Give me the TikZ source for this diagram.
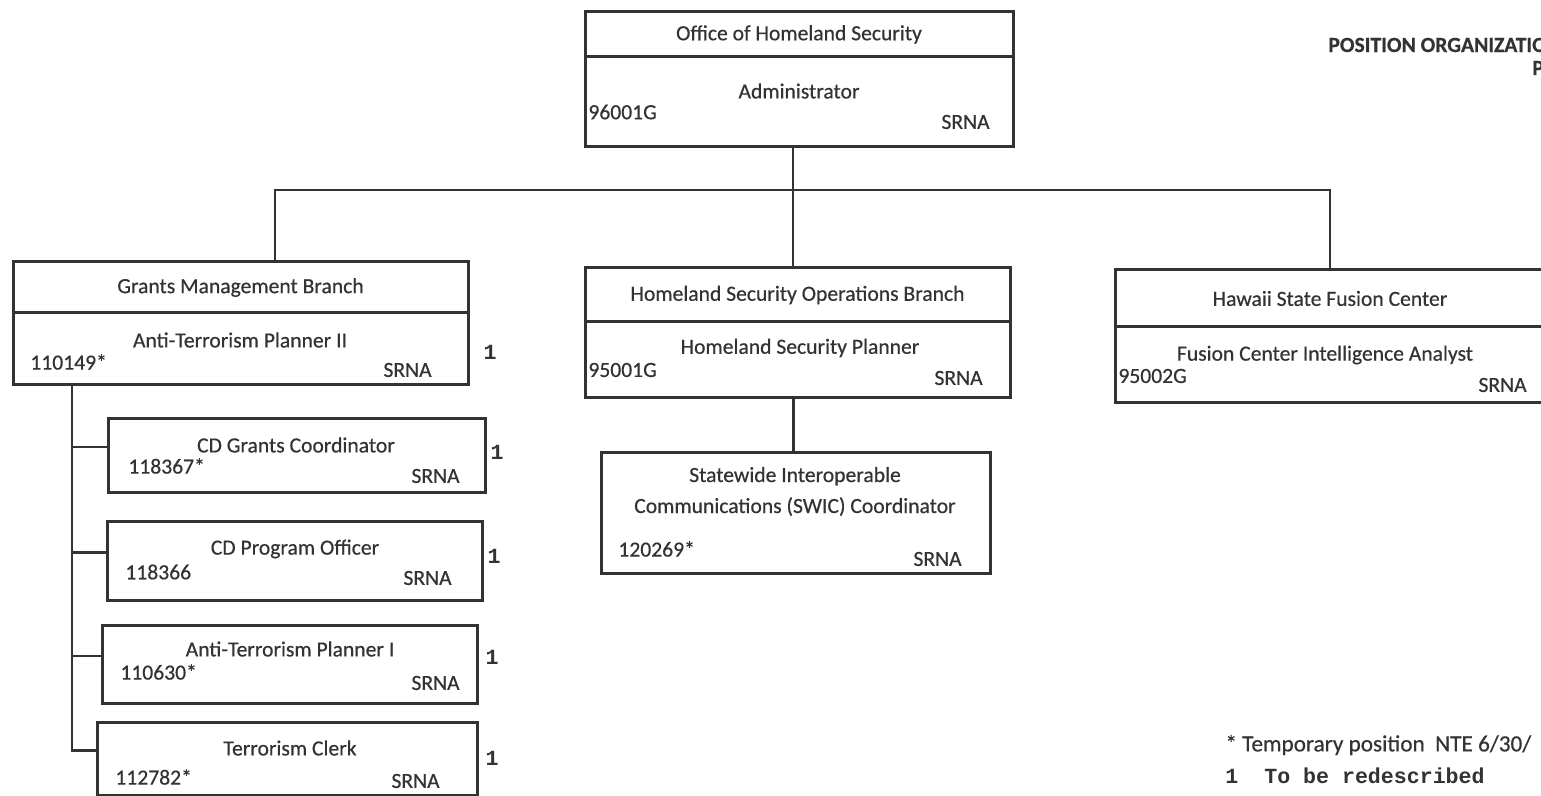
\documentclass[tikz,border=0pt]{standalone}
\usepackage{fontspec}
\setmainfont{Carlito}[FakeBold=0.5]
\setmonofont{Liberation Mono}
\usepackage{xcolor}
\usetikzlibrary{positioning}
\definecolor{ink}{HTML}{333333}
\newcommand{\chartfont}{\fontsize{10.8}{15.5}\selectfont}
\newcommand{\notefont}{\fontsize{10.8}{13}\selectfont\ttfamily\bfseries}

\begin{document}
\begin{tikzpicture}[
    x=0.5pt, y=-0.5pt,
    head/.style={rectangle, draw=ink, line width=1.5pt, outer sep=0pt, inner sep=0pt, align=center, font=\chartfont, text=ink},
    post/.style={rectangle, draw=ink, line width=1.5pt, outer sep=0pt, inner sep=0pt},
    txt/.style={inner sep=0pt, align=center, font=\chartfont, text=ink},
    count/.style={inner sep=0pt, font=\notefont, text=ink},
    link/.style={draw=ink, line width=1.1pt}
]
\fill[white] (0,0) rectangle (1541,796);
\useasboundingbox (0,0) rectangle (1541,796);
\clip (0,0) rectangle (1541,796);

% Office of Homeland Security
\node[head, minimum width=214pt, minimum height=22.5pt] (office) at (799,34.5) {Office of Homeland Security};
\node[post, minimum width=214pt, minimum height=45pt, below=0pt of office] (officePost) {};
\node[txt] (officeTitle) at (799,91) {Administrator};
\node[txt, anchor=west] (officeNo) at (588,112) {96001G};
\node[txt, anchor=east] (officeSr) at (990,122) {SRNA};

% Grants Management Branch
\node[head, minimum width=227.5pt, minimum height=25.5pt] (grants) at (240.5,287.5) {Grants Management Branch};
\node[post, minimum width=227.5pt, minimum height=36pt, below=0pt of grants] (grantsPost) {};
\node[txt] (grantsTitle) at (240,340) {Anti-Terrorism Planner II};
\node[txt, anchor=west] (grantsNo) at (30,362) {110149*};
\node[txt, anchor=east] (grantsSr) at (432,370) {SRNA};
\node[count] (grantsOne) at (490,352) {1};

% Homeland Security Operations Branch
\node[head, minimum width=212.5pt, minimum height=27pt] (ops) at (797.5,295) {Homeland Security Operations Branch};
\node[post, minimum width=212.5pt, minimum height=38pt, below=0pt of ops] (opsPost) {};
\node[txt] (opsTitle) at (800,348) {Homeland Security Planner};
\node[txt, anchor=west] (opsNo) at (588,370) {95001G};
\node[txt, anchor=east] (opsSr) at (983,378) {SRNA};

% Hawaii State Fusion Center
\node[head, minimum width=215pt, minimum height=28.5pt] (fusion) at (1330,298.5) {Hawaii State Fusion Center};
\node[post, minimum width=215pt, minimum height=38pt, below=0pt of fusion] (fusionPost) {};
\node[txt] (fusionTitle) at (1325,355) {Fusion Center Intelligence Analyst};
\node[txt, anchor=west] (fusionNo) at (1118,376) {95002G};
\node[txt, anchor=east] (fusionSr) at (1527,385) {SRNA};

% SWIC Coordinator
\node[post, minimum width=194.5pt, minimum height=60.5pt] (swic) at (795.5,512.5) {};
\node[txt] (swicTitle) at (795,491.5) {Statewide Interoperable\\Communications (SWIC) Coordinator};
\node[txt, anchor=west] (swicNo) at (618,549) {120269*};
\node[txt, anchor=east] (swicSr) at (962,559) {SRNA};

% Grants staff
\node[post, minimum width=188.5pt, minimum height=37pt] (cdg) at (296.5,455) {};
\node[txt] (cdgTitle) at (296,445) {CD Grants Coordinator};
\node[txt, anchor=west] (cdgNo) at (128,466) {118367*};
\node[txt, anchor=east] (cdgSr) at (460,476) {SRNA};
\node[count] (cdgOne) at (497,452) {1};

\node[post, minimum width=187.5pt, minimum height=39.5pt] (cdp) at (294.5,560.5) {};
\node[txt] (cdpTitle) at (295,549) {CD Program Officer};
\node[txt, anchor=west] (cdpNo) at (125,572) {118366};
\node[txt, anchor=east] (cdpSr) at (452,578) {SRNA};
\node[count] (cdpOne) at (494,556) {1};

\node[post, minimum width=187.5pt, minimum height=39pt] (atp) at (289.5,664) {};
\node[txt] (atpTitle) at (290,649) {Anti-Terrorism Planner I};
\node[txt, anchor=west] (atpNo) at (120,672) {110630*};
\node[txt, anchor=east] (atpSr) at (460,683) {SRNA};
\node[count] (atpOne) at (492,657) {1};

\node[post, minimum width=190pt, minimum height=36.5pt] (clerk) at (287,758.5) {};
\node[txt] (clerkTitle) at (290,748) {Terrorism Clerk};
\node[txt, anchor=west] (clerkNo) at (115,777) {112782*};
\node[txt, anchor=east] (clerkSr) at (440,781) {SRNA};
\node[count] (clerkOne) at (492,758) {1};

% Lines
\coordinate (busL) at (275,190);
\coordinate (busR) at (1330,190);
\coordinate (trunk) at (72,385);
\coordinate (drop) at (793,147);
\draw[link] (drop) -- (drop |- ops.north);
\draw[link] (grants.north -| busL) -- (busL) -- (busR) -- (fusion.north);
\draw[link] ([xshift=-2pt]opsPost.south) -- ([xshift=-2pt]opsPost.south |- swic.north);
\draw[link] (grantsPost.south -| trunk) |- ([yshift=4pt]clerk.west);
\draw[link] (trunk) |- ([yshift=4pt]cdg.west);
\draw[link] (trunk) |- ([yshift=4pt]cdp.west);
\draw[link] (trunk) |- ([yshift=4pt]atp.west);

% Heading and notes
\node[txt, anchor=west, font=\chartfont\bfseries] (heading) at (1328,45) {POSITION ORGANIZATIO};
\node[txt, anchor=west, font=\chartfont\bfseries] (headingTwo) at (1532,68) {P};
\node[txt, anchor=west, font=\fontsize{11.6}{14}\selectfont] (noteTemp) at (1225,745) {* Temporary position~~NTE 6/30/};
\node[count, anchor=west] (noteOne) at (1225,776) {1~~To be redescribed};

\end{tikzpicture}
\end{document}
